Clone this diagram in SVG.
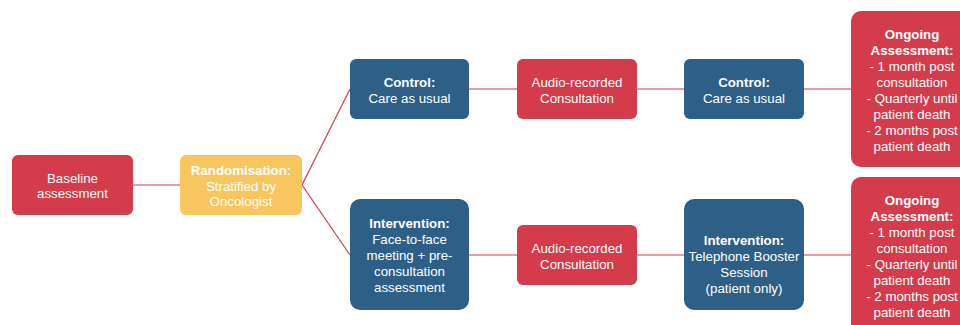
<svg xmlns="http://www.w3.org/2000/svg" width="960" height="325" viewBox="0 0 960 325">
<style>
.red{fill:#d43b4b}
.blue{fill:#2e5f87}
.yel{fill:#f8c65e}
text{font-family:"Liberation Sans",Arial,sans-serif;font-size:13.3px;fill:#fff;text-anchor:middle}
.b{font-weight:bold}
.ln{stroke:#d43b4b;stroke-width:1.2;fill:none}
</style>
<rect width="960" height="325" fill="#fff"/>
<g id="connectors">
<line class="ln" x1="133" y1="185" x2="180" y2="185"/>
<polyline class="ln" points="350,89 302,185 350,255"/>
<line class="ln" x1="469" y1="89" x2="851" y2="89"/>
<line class="ln" x1="469" y1="255" x2="851" y2="255"/>
</g>
<g id="baseline">
<rect class="red" x="12" y="155" width="121" height="60" rx="6"/>
<text x="72.5" y="183">Baseline</text>
<text x="72.5" y="198">assessment</text>
</g>
<g id="randomisation">
<rect class="yel" x="180" y="155" width="122" height="60" rx="6"/>
<text x="241" y="175" class="b">Randomisation:</text>
<text x="241" y="191">Stratified by</text>
<text x="241" y="206">Oncologist</text>
</g>
<g id="control1">
<rect class="blue" x="350" y="59" width="119" height="60" rx="6"/>
<text x="409.5" y="87" class="b">Control:</text>
<text x="409.5" y="103">Care as usual</text>
</g>
<g id="audio1">
<rect class="red" x="517" y="59" width="120" height="60" rx="6"/>
<text x="577" y="87">Audio-recorded</text>
<text x="577" y="103">Consultation</text>
</g>
<g id="control2">
<rect class="blue" x="684" y="59" width="120" height="60" rx="6"/>
<text x="744" y="87" class="b">Control:</text>
<text x="744" y="103">Care as usual</text>
</g>
<g id="ongoing1">
<rect class="red" x="851" y="11" width="122" height="156" rx="10"/>
<text x="912" y="39" class="b">Ongoing</text>
<text x="912" y="55" class="b">Assessment:</text>
<text x="912" y="71">- 1 month post</text>
<text x="912" y="87">consultation</text>
<text x="912" y="103">- Quarterly until</text>
<text x="912" y="119">patient death</text>
<text x="912" y="135">- 2 months post</text>
<text x="912" y="151">patient death</text>
</g>
<g id="intervention1">
<rect class="blue" x="350" y="199" width="119" height="111" rx="10"/>
<text x="409.5" y="228" class="b">Intervention:</text>
<text x="409.5" y="244">Face-to-face</text>
<text x="409.5" y="260">meeting + pre-</text>
<text x="409.5" y="276">consultation</text>
<text x="409.5" y="292">assessment</text>
</g>
<g id="audio2">
<rect class="red" x="517" y="225" width="120" height="60" rx="6"/>
<text x="577" y="253">Audio-recorded</text>
<text x="577" y="269">Consultation</text>
</g>
<g id="intervention2">
<rect class="blue" x="684" y="199" width="120" height="111" rx="10"/>
<text x="744" y="245" class="b">Intervention:</text>
<text x="744" y="261">Telephone Booster</text>
<text x="744" y="277">Session</text>
<text x="744" y="293">(patient only)</text>
</g>
<g id="ongoing2">
<rect class="red" x="851" y="177" width="122" height="160" rx="10"/>
<text x="912" y="205" class="b">Ongoing</text>
<text x="912" y="221" class="b">Assessment:</text>
<text x="912" y="237">- 1 month post</text>
<text x="912" y="253">consultation</text>
<text x="912" y="269">- Quarterly until</text>
<text x="912" y="285">patient death</text>
<text x="912" y="301">- 2 months post</text>
<text x="912" y="317">patient death</text>
</g>
</svg>
